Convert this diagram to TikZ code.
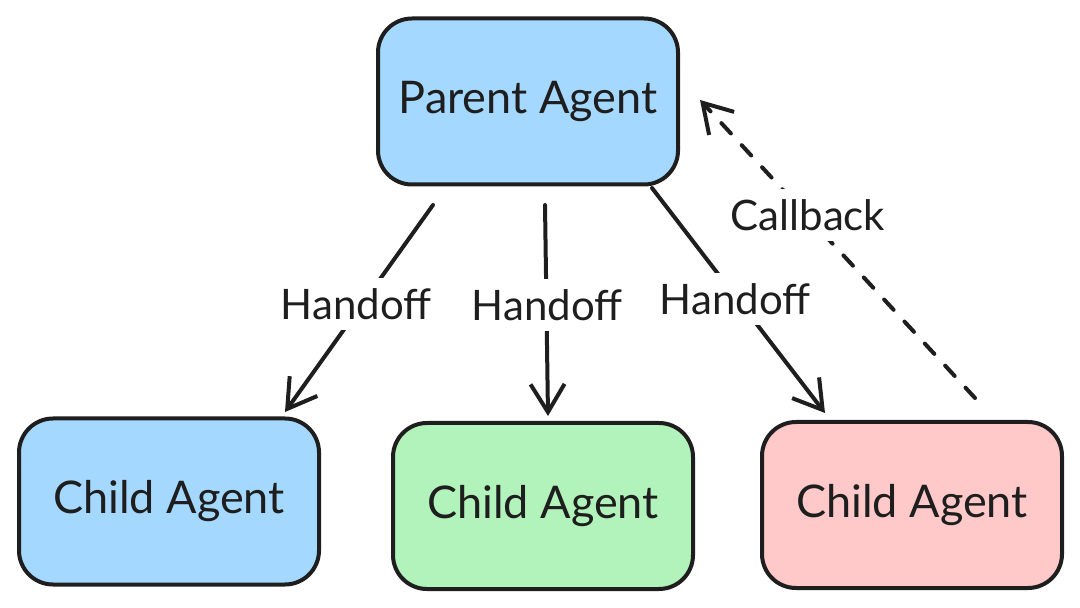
\documentclass[tikz,border=0pt]{standalone}
\usepackage{fontspec}
\setmainfont{Lato}
\usetikzlibrary{arrows.meta}
\definecolor{exblue}{HTML}{A5D8FF}
\definecolor{exgreen}{HTML}{B2F2BB}
\definecolor{exred}{HTML}{FFC9C9}
\definecolor{ink}{HTML}{1E1E1E}
\tikzset{
  agentbox/.style={draw=ink, line width=2pt, rounded corners=17pt,
    minimum width=150pt, minimum height=83pt, font=\fontsize{22.5}{26}\selectfont, text=ink},
  arr/.style={draw=ink, line width=2pt, line cap=round,
    -{Straight Barb[length=14pt,width=17pt,line width=2pt]}},
  dasharr/.style={arr, dash pattern=on 7pt off 8pt},
  lbl/.style={fill=white, inner sep=5pt, font=\fontsize{21}{24}\selectfont, text=ink}
}
\begin{document}
\begin{tikzpicture}[x=0.5pt,y=-0.5pt]
\useasboundingbox (0,0) rectangle (1080,608);
\node[agentbox, fill=exblue] (parent) at (528,101.5) {Parent Agent};
\node[agentbox, fill=exblue] (c1) at (169,501.5) {Child Agent};
\node[agentbox, fill=exgreen] (c2) at (543,506) {Child Agent};
\node[agentbox, fill=exred] (c3) at (912,505) {Child Agent};
\coordinate (s1) at (433,205); \coordinate (e1) at (285,412);
\coordinate (s2) at (545,205); \coordinate (e2) at (548,416);
\coordinate (s3) at (652,188); \coordinate (e3) at (825,413);
\coordinate (s4) at (975,398); \coordinate (e4) at (700,100);
\draw[arr] (s1) -- (e1);
\draw[arr] (s2) -- (e2);
\draw[arr] (s3) -- (e3);
\draw[dasharr] (s4) -- (e4);
\node[lbl] (l1) at (356,304) {Handoff};
\node[lbl] (l2) at (547,305) {Handoff};
\node[lbl] (l3) at (735,299) {Handoff};
\node[lbl] (l4) at (808,215) {Callback};
\end{tikzpicture}
\end{document}
